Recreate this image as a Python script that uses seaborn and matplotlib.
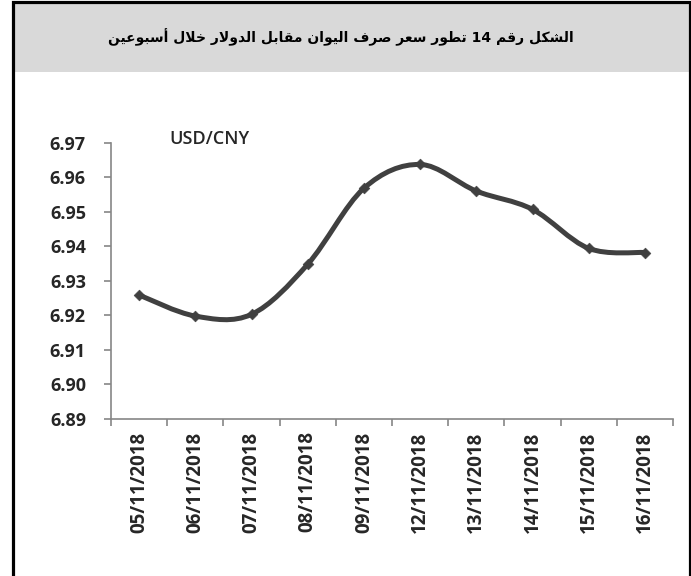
import matplotlib
matplotlib.use('Agg')
import matplotlib.pyplot as plt
import numpy as np
import pandas as pd
import seaborn as sns
from matplotlib.path import Path
from matplotlib.patches import PathPatch, Rectangle

# Data
dates = ['05/11/2018', '06/11/2018', '07/11/2018', '08/11/2018', '09/11/2018',
         '12/11/2018', '13/11/2018', '14/11/2018', '15/11/2018', '16/11/2018']
rates = [6.9259, 6.9198, 6.9203, 6.9348, 6.9568,
         6.9637, 6.9560, 6.9507, 6.9394, 6.9382]
y_ticks = [6.89, 6.90, 6.91, 6.92, 6.93, 6.94, 6.95, 6.96, 6.97]
series_name = 'USD/CNY'
title = 'الشكل رقم 14 تطور سعر صرف اليوان مقابل الدولار خلال أسبوعين'

# Minimal Arabic shaping (matplotlib has no text shaping / bidi)
# forms: isolated, final, initial, medial
FORMS = {
  'ا': ('\uFE8D', '\uFE8E', None, None),
  'أ': ('\uFE83', '\uFE84', None, None),
  'ب': ('\uFE8F', '\uFE90', '\uFE91', '\uFE92'),
  'ت': ('\uFE95', '\uFE96', '\uFE97', '\uFE98'),
  'خ': ('\uFEA5', '\uFEA6', '\uFEA7', '\uFEA8'),
  'د': ('\uFEA9', '\uFEAA', None, None),
  'ر': ('\uFEAD', '\uFEAE', None, None),
  'س': ('\uFEB1', '\uFEB2', '\uFEB3', '\uFEB4'),
  'ش': ('\uFEB5', '\uFEB6', '\uFEB7', '\uFEB8'),
  'ص': ('\uFEB9', '\uFEBA', '\uFEBB', '\uFEBC'),
  'ط': ('\uFEC1', '\uFEC2', '\uFEC3', '\uFEC4'),
  'ع': ('\uFEC9', '\uFECA', '\uFECB', '\uFECC'),
  'ف': ('\uFED1', '\uFED2', '\uFED3', '\uFED4'),
  'ق': ('\uFED5', '\uFED6', '\uFED7', '\uFED8'),
  'ك': ('\uFED9', '\uFEDA', '\uFEDB', '\uFEDC'),
  'ل': ('\uFEDD', '\uFEDE', '\uFEDF', '\uFEE0'),
  'م': ('\uFEE1', '\uFEE2', '\uFEE3', '\uFEE4'),
  'ن': ('\uFEE5', '\uFEE6', '\uFEE7', '\uFEE8'),
  'و': ('\uFEED', '\uFEEE', None, None),
  'ي': ('\uFEF1', '\uFEF2', '\uFEF3', '\uFEF4'),
}
LAM_ALEF = {'ا': ('\uFEFB', '\uFEFC', None, None),
            'أ': ('\uFEF7', '\uFEF8', None, None)}


def shape_word(word):
  units = []
  i = 0
  while i < len(word):
    c = word[i]
    if c == 'ل' and i + 1 < len(word) and word[i + 1] in LAM_ALEF:
      units.append(LAM_ALEF[word[i + 1]])
      i += 2
      continue
    units.append(FORMS[c])
    i += 1
  out = []
  for k, u in enumerate(units):
    prev = k > 0 and units[k - 1][2] is not None
    nxt = k < len(units) - 1 and u[2] is not None
    if prev and nxt:
      out.append(u[3])
    elif prev:
      out.append(u[1])
    elif nxt:
      out.append(u[2])
    else:
      out.append(u[0])
  return ''.join(reversed(out))


def visual(text):
  words = []
  for w in text.split(' '):
    words.append(w if w.isdigit() else shape_word(w))
  return ' '.join(reversed(words))


df = pd.DataFrame({'date': dates, 'rate': rates})
df['pos'] = np.arange(len(df))

sns.set_style('white')
plt.rcParams['font.family'] = ['Open Sans', 'DejaVu Sans']

W, H = 691, 576
fig = plt.figure(figsize=(W / 100, H / 100), dpi=100)

# frame and grey title band
fig.add_artist(Rectangle((13 / W, 1 - 72 / H), (689.5 - 13) / W, 70 / H,
                         transform=fig.transFigure, facecolor='#d9d9d9',
                         edgecolor='none', zorder=0))
fig.add_artist(Rectangle((13 / W, -0.05), (689.5 - 13) / W, 1.05 - 2 / H,
                         transform=fig.transFigure, fill=False,
                         edgecolor='black', linewidth=2.3, zorder=1))
fig.text(341 / W, 1 - 37 / H, visual(title), ha='center', va='center',
         fontsize=10, fontweight='bold', family='DejaVu Sans', color='black')

ax = fig.add_axes([111 / W, (H - 419) / H, (673 - 111) / W, (419 - 142.7) / H])

# smoothed line (Excel-style Catmull-Rom through the points)
pts = df[['pos', 'rate']].to_numpy()
n = len(pts)
verts = [pts[0]]
codes = [Path.MOVETO]
for i in range(n - 1):
  p0 = pts[max(i - 1, 0)]
  p1 = pts[i]
  p2 = pts[i + 1]
  p3 = pts[min(i + 2, n - 1)]
  verts += [p1 + (p2 - p0) / 6, p2 - (p3 - p1) / 6, p2]
  codes += [Path.CURVE4] * 3
ax.add_patch(PathPatch(Path(verts, codes), facecolor='none',
                       edgecolor='#404040', linewidth=3.6,
                       capstyle='round', joinstyle='round', zorder=2))
sns.scatterplot(data=df, x='pos', y='rate', marker='D', s=30,
                color='#404040', edgecolor='#404040', ax=ax, zorder=3)

ax.set_xlim(-0.5, n - 0.5)
ax.set_ylim(y_ticks[0], y_ticks[-1])
ax.set_yticks(y_ticks)
ax.set_yticklabels([f'{v:.2f}' for v in y_ticks])
ax.set_xticks(np.arange(n + 1) - 0.5)
ax.set_xticklabels([])
ax.set_xticks(df['pos'], minor=True)
ax.set_xticklabels(dates, minor=True, rotation=90)
ax.set_xlabel('')
ax.set_ylabel('')

for s in ['top', 'right']:
  ax.spines[s].set_visible(False)
for s in ['left', 'bottom']:
  ax.spines[s].set_color('#868686')
  ax.spines[s].set_linewidth(1.2)

ax.tick_params(axis='y', which='major', direction='out', length=5,
               width=1.2, color='#868686', pad=13, labelsize=13,
               labelcolor='#262626', left=True)
ax.tick_params(axis='x', which='major', direction='out', length=5,
               width=1.2, color='#868686', bottom=True)
ax.tick_params(axis='x', which='minor', length=0, pad=9, labelsize=13.5,
               labelcolor='#262626')
for lbl in ax.get_yticklabels() + ax.get_xticklabels(minor=True):
  lbl.set_fontweight('bold')

ax.text(0.176, 1.013, series_name, transform=ax.transAxes, ha='center',
        va='center', fontsize=13, fontweight='semibold', color='#262626')

fig.savefig('out.png', dpi=100)
